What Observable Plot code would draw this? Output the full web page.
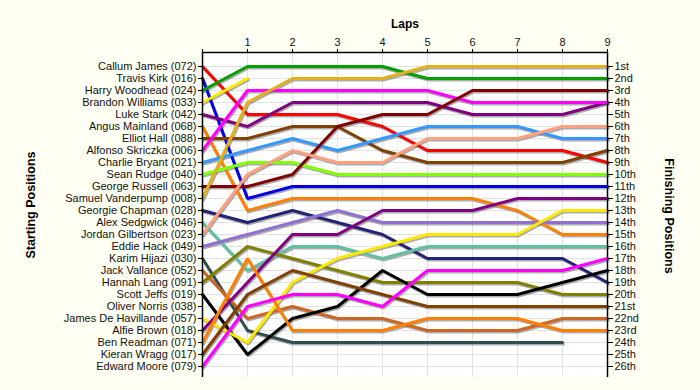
<!DOCTYPE html>
<html>
<head>
<meta charset="utf-8">
<script src="https://cdn.jsdelivr.net/npm/d3@7"></script>
<script src="https://cdn.jsdelivr.net/npm/@observablehq/plot@0.6"></script>
<style>
  html, body { margin: 0; padding: 0; background: #fffff4; }
</style>
</head>
<body>
<div id="chart"></div>
<script>
// Drivers in starting order (start position = index + 1)
const drivers = [
  "Callum James (072)", "Travis Kirk (016)", "Harry Woodhead (024)", "Brandon Williams (033)",
  "Luke Stark (042)", "Angus Mainland (068)", "Elliot Hall (088)", "Alfonso Skriczka (006)",
  "Charlie Bryant (021)", "Sean Rudge (040)", "George Russell (063)", "Samuel Vanderpump (008)",
  "Georgie Chapman (028)", "Alex Sedgwick (046)", "Jordan Gilbertson (023)", "Eddie Hack (049)",
  "Karim Hijazi (030)", "Jack Vallance (052)", "Hannah Lang (091)", "Scott Jeffs (019)",
  "Oliver Norris (038)", "James De Havillande (057)", "Alfie Brown (018)", "Ben Readman (071)",
  "Kieran Wragg (017)", "Edward Moore (079)"
];
const driverColors = [
  "#ff0000", "#0000e0", "#00a000", "#ffe800", "#800080", "#ff8000", "#804000", "#ff00ff",
  "#3399ff", "#80ff00", "#800000", "#e0b020", "#222277", "#60c0a0", "#ffa080", "#9070d0",
  "#2f4f4f", "#cc6622", "#808000", "#000000", "#999999", "#ffe800", "#800080", "#ff8000",
  "#804000", "#ff00ff"
];
const finishLabels = [
  "1st","2nd","3rd","4th","5th","6th","7th","8th","9th","10th","11th","12th","13th",
  "14th","15th","16th","17th","18th","19th","20th","21st","22nd","23rd","24th","25th","26th"
];
const laps = [0, 1, 2, 3, 4, 5, 6, 7, 8, 9];

// Position of each driver (in driver order) after each lap; null = not running
const lap0 = [1,2,3,4,5,6,7,8,9,10,11,12,13,14,15,16,17,18,19,20,null,22,23,24,25,26];
const lap1 = [5,12,1,2,6,13,7,3,8,9,11,4,14,18,10,15,23,22,16,25,null,24,19,17,20,21];
const lap2 = [5,11,1,null,4,12,6,3,7,9,10,2,13,16,8,14,24,21,17,22,null,19,15,23,18,20];
const lap3 = [5,11,1,null,4,12,6,3,8,10,6,2,14,16,9,13,24,22,18,21,null,17,15,23,19,20];
const lap4 = [6,11,1,null,4,12,8,3,7,10,5,2,15,17,9,14,24,22,19,18,null,16,13,23,20,21];
const lap5 = [8,11,2,null,4,12,9,3,6,10,5,1,17,16,7,14,24,23,19,20,null,15,13,22,21,18];
const lap6 = [8,11,2,null,5,12,9,4,6,10,3,1,17,16,7,14,24,23,19,20,null,15,13,22,21,18];
const lap7 = [8,11,2,null,5,13,9,4,6,10,3,1,17,16,7,14,24,23,19,20,null,15,12,22,21,18];
const lap8 = [8,11,2,null,5,15,9,4,7,10,3,1,17,16,6,14,24,22,20,19,null,13,12,23,21,18];
const lap9 = [9,11,2,null,4,15,8,4,7,10,3,1,19,16,6,14,null,22,20,18,null,13,12,23,21,17];
const lapPositions = [lap0, lap1, lap2, lap3, lap4, lap5, lap6, lap7, lap8, lap9];

const rows = [];
drivers.forEach((name, i) => {
  laps.forEach(lap => {
    const p = lapPositions[lap][i];
    if (p != null) rows.push({driver: name, lap, pos: p, color: driverColors[i]});
  });
});

const yDomain = [-1/6, 26 + 11/12];
const positions = d3.range(1, 27);

const chart = Plot.plot({
  width: 700,
  height: 390,
  marginLeft: 202,
  marginRight: 93,
  marginTop: 52,
  marginBottom: 13,
  style: {background: "#fffff4", fontFamily: "'Liberation Sans', Arial, sans-serif", fontSize: "11px", color: "#000"},
  x: {domain: [0, 9]},
  y: {domain: yDomain, reverse: true},
  color: {type: "identity"},
  marks: [
    Plot.frame({fill: "white", stroke: null}),
    Plot.gridY(positions, {stroke: "#e2e2e2", strokeOpacity: 1}),
    Plot.gridX(d3.range(1, 9), {stroke: "#e2e2e2", strokeOpacity: 1}),
    Plot.line(rows, {x: "lap", y: "pos", z: "driver", stroke: "#6a6a6a", strokeOpacity: 0.55,
      strokeWidth: 3, dx: 1, dy: 1.5, strokeLinejoin: "miter"}),
    Plot.line(rows, {x: "lap", y: "pos", z: "driver", stroke: "color",
      strokeWidth: 3, strokeLinejoin: "miter"}),
    Plot.ruleX([0, 9], {stroke: "black", strokeWidth: 1.5}),
    Plot.ruleY([yDomain[0]], {stroke: "black", strokeWidth: 1.5}),
    Plot.axisY(positions, {anchor: "left", tickFormat: p => drivers[p - 1], tickSize: 4,
      tickPadding: 2, label: null, fontSize: 11, fill: "#111"}),
    Plot.axisY(positions, {anchor: "right", tickFormat: p => finishLabels[p - 1], tickSize: 5,
      tickPadding: 2, label: null, fontSize: 11, fill: "#111"}),
    Plot.axisX(laps, {anchor: "top", tickFormat: d => d === 0 ? "" : String(d), tickSize: 4,
      tickPadding: 3, label: null, fontSize: 11, fill: "#111"}),
    Plot.text(["Laps"], {frameAnchor: "top", dy: -33, fontWeight: "bold", fontSize: 12}),
    Plot.text(["Starting Positions"], {frameAnchor: "left", dx: -172, dy: -10, rotate: -90,
      textAnchor: "middle", fontWeight: "bold", fontSize: 12.5}),
    Plot.text(["Finishing Positions"], {frameAnchor: "right", dx: 61, dy: 1, rotate: 90,
      textAnchor: "middle", fontWeight: "bold", fontSize: 12.5})
  ]
});
document.getElementById("chart").appendChild(chart);
</script>
</body>
</html>
